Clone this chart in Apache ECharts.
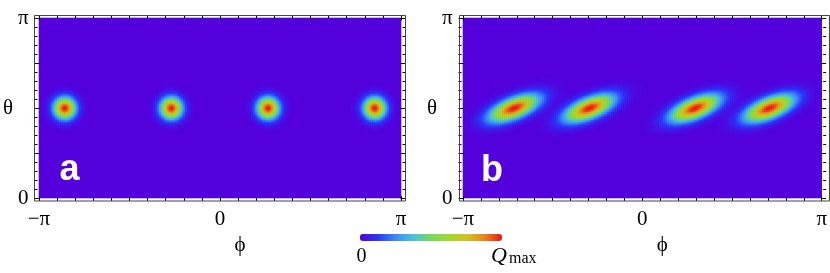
<!DOCTYPE html>
<html><head><meta charset="utf-8">
<script src="https://cdn.jsdelivr.net/npm/echarts@6/dist/echarts.min.js"></script>
<style>html,body{margin:0;padding:0;background:#fff}#c{width:830px;height:273px}</style>
</head><body><div id="c"></div>
<script>
// ---------------- data ----------------
// axis ticks (phi in units of pi/10, theta in units of pi/20)
const phiTickValues = [-10, 0, 10];
const phiTickLabels = ['\u2212\u03c0', '0', '\u03c0'];
const thetaTickValues = [0, 20];
const thetaTickLabels = ['0', '\u03c0'];
const panelLetters = ['a', 'b'];
const colorbarLabels = ['0', 'Q', 'max'];
// panel a : four round spots (centre phi, centre theta, widths in rad)
const spotPhiA = [-2.69, -0.84, 0.84, 2.69];
const spotThetaA = [1.57, 1.57, 1.57, 1.57];
const spotSigmaA = [0.13, 0.13];
const spotTiltA = 0;
// panel b : four tilted, elongated spots
const spotPhiB = [-2.24, -0.92, 0.93, 2.23];
const spotThetaB = [1.57, 1.57, 1.57, 1.57];
const spotSigmaB = [0.31, 0.12];
const spotTiltB = 22;
// colour scale 0 .. Qmax
const colorStops = ['#5400dc', '#2a36fa', '#3a8cf8', '#4cc0d8', '#74dc5c', '#a0d830', '#cec41e', '#e8881c', '#f01414'];
// ------------------------------------------------------------
const nPhi = 181, nTheta = 90;
const phiCats = Array.from({length: nPhi}, (_, i) => i);
const thetaCats = Array.from({length: nTheta}, (_, i) => i);

function buildField(phis, thetas, sig, tiltDeg) {
  const a = tiltDeg * Math.PI / 180, c = Math.cos(a), s = Math.sin(a);
  const out = [];
  for (let i = 0; i < nPhi; i++) {
    const phi = -Math.PI + (i + 0.5) * 2 * Math.PI / nPhi;
    for (let j = 0; j < nTheta; j++) {
      const th = (j + 0.5) * Math.PI / nTheta;
      let v = 0;
      for (let k = 0; k < phis.length; k++) {
        const dx = phi - phis[k], dy = th - thetas[k];
        const u = dx * c + dy * s, w = -dx * s + dy * c;
        v += Math.exp(-(u * u / (2 * sig[0] * sig[0]) + w * w / (2 * sig[1] * sig[1])));
      }
      out.push([i, j, Math.min(1, v)]);
    }
  }
  return out;
}
const fieldA = buildField(spotPhiA, spotThetaA, spotSigmaA, spotTiltA);
const fieldB = buildField(spotPhiB, spotThetaB, spotSigmaB, spotTiltB);

const serif = '"Liberation Serif", "Times New Roman", serif';
const fmt = (vals, labs) => v => { const k = vals.findIndex(t => Math.abs(t - v) < 1e-6); return k < 0 ? '' : labs[k]; };

const grids = [
  {left: 39, top: 18, width: 362, height: 180, show: true, backgroundColor: colorStops[0], borderWidth: 0},
  {left: 463, top: 18, width: 362, height: 180, show: true, backgroundColor: colorStops[0], borderWidth: 0}
];
const tick = {inside: true, length: 5, lineStyle: {color: '#000', width: 1}};
const minor = {show: true, splitNumber: 5, length: 3, lineStyle: {color: '#000', width: 1}};
const noLine = {show: false, onZero: false};

const xAxis = [], yAxis = [];
grids.forEach((g, gi) => {
  xAxis.push({type: 'category', gridIndex: gi, data: phiCats, show: false});
  xAxis.push({type: 'value', gridIndex: gi, position: 'bottom', offset: 3, min: -10, max: 10, interval: 5, z: 5,
    axisLine: noLine, splitLine: {show: false}, axisTick: tick, minorTick: minor,
    axisLabel: {formatter: fmt(phiTickValues, phiTickLabels), fontFamily: serif, fontSize: 21, color: '#000', margin: 8},
    name: '\u03d5', nameLocation: 'middle', nameGap: 32,
    nameTextStyle: {fontFamily: serif, fontSize: 21, color: '#000', padding: [0, 0, 0, 40]}});
  xAxis.push({type: 'value', gridIndex: gi, position: 'top', offset: 2.5, min: -10, max: 10, interval: 5, z: 5,
    axisLine: noLine, splitLine: {show: false}, axisTick: tick, minorTick: minor, axisLabel: {show: false}});
  yAxis.push({type: 'category', gridIndex: gi, data: thetaCats, show: false});
  yAxis.push({type: 'value', gridIndex: gi, position: 'left', offset: 4.5, min: 0, max: 20, interval: 5, z: 5,
    axisLine: noLine, splitLine: {show: false}, axisTick: tick, minorTick: minor,
    axisLabel: {formatter: fmt(thetaTickValues, thetaTickLabels), fontFamily: serif, fontSize: 21, color: '#000', margin: 6},
    name: '\u03b8', nameLocation: 'middle', nameGap: 21, nameRotate: 0,
    nameTextStyle: {fontFamily: serif, fontSize: 21, color: '#000', padding: [0, 0, 10, 0]}});
  yAxis.push({type: 'value', gridIndex: gi, position: 'right', offset: 4.5, min: 0, max: 20, interval: 5, z: 5,
    axisLine: noLine, splitLine: {show: false}, axisTick: tick, minorTick: minor, axisLabel: {show: false}});
});

const heat = (data, idx) => ({type: 'heatmap', data, xAxisIndex: idx, yAxisIndex: idx,
  progressive: 0, silent: true, emphasis: {disabled: true}, itemStyle: {borderWidth: 0}});

const chart = echarts.init(document.getElementById('c'), null, {renderer: 'canvas'});
chart.setOption({
  animation: false,
  backgroundColor: '#fff',
  grid: grids,
  xAxis, yAxis,
  visualMap: {type: 'continuous', min: 0, max: 1, orient: 'horizontal', left: 360, top: 234,
    itemWidth: 7, itemHeight: 142, calculable: false, padding: 0, seriesIndex: [0, 1], hoverLink: false,
    inRange: {color: colorStops}},
  series: [heat(fieldA, 0), heat(fieldB, 3)],
  graphic: [
    {type: 'rect', shape: {x: 34.5, y: 15.5, width: 371, height: 185.5}, style: {fill: 'none', stroke: '#444', lineWidth: 1}, silent: true, z: 10},
    {type: 'rect', shape: {x: 459.5, y: 15.5, width: 370, height: 185.5}, style: {fill: 'none', stroke: '#444', lineWidth: 1}, silent: true, z: 10},
    {type: 'text', x: 59.5, y: 170, style: {text: panelLetters[0], font: 'bold 36px "Liberation Sans", Arial, sans-serif', fill: '#fff', verticalAlign: 'middle'}, z: 10},
    {type: 'text', x: 481, y: 171, style: {text: panelLetters[1], font: 'bold 36px "Liberation Sans", Arial, sans-serif', fill: '#fff', verticalAlign: 'middle'}, z: 10},
    {type: 'text', x: 361.5, y: 256.5, style: {text: colorbarLabels[0], font: '20px ' + serif, fill: '#000', align: 'center', verticalAlign: 'middle'}},
    {type: 'text', x: 491, y: 256, style: {text: colorbarLabels[1], font: 'italic 22px ' + serif, fill: '#000', verticalAlign: 'middle'}},
    {type: 'text', x: 509, y: 259, style: {text: colorbarLabels[2], font: '16px ' + serif, fill: '#000', verticalAlign: 'middle'}}
  ]
});
</script></body></html>
